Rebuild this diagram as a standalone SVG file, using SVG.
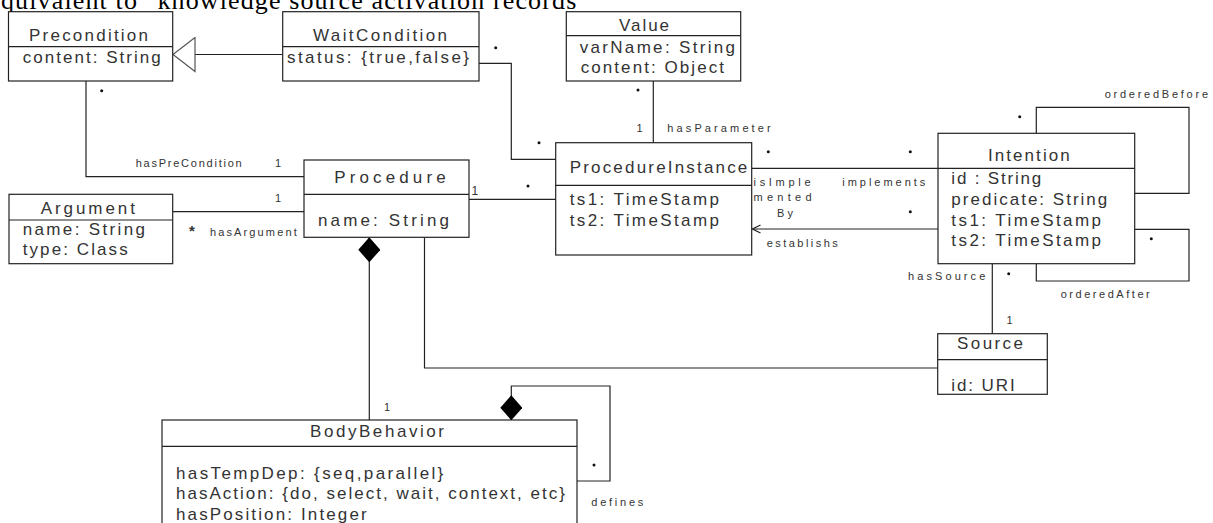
<svg xmlns="http://www.w3.org/2000/svg" width="1213" height="523" viewBox="0 0 1213 523">
<style>
.bg{fill:#fff}
.box{fill:#fff;stroke:#222;stroke-width:1.2}
.div{stroke:#222;stroke-width:1.2}
.c{fill:none;stroke:#222;stroke-width:1.2}
.t{font-family:"Liberation Sans",Arial,sans-serif;font-size:17px;fill:#333}
.s{font-family:"Liberation Sans",Arial,sans-serif;font-size:11px;fill:#333}
.n{font-family:"Liberation Sans",Arial,sans-serif;font-size:12px;fill:#333}
.top{font-family:"Liberation Serif","Times New Roman",serif;font-size:26px;fill:#000}
.dot{fill:#111}
</style>
<defs>
<marker id="diamond" markerUnits="userSpaceOnUse" viewBox="0 0 25 22" markerWidth="25" markerHeight="22" refX="0" refY="11" orient="auto">
<path d="M0,11 L12.5,0 L25,11 L12.5,22 Z" fill="#000"/>
</marker>
<marker id="tri" markerUnits="userSpaceOnUse" viewBox="0 0 24 36" markerWidth="24" markerHeight="36" refX="23" refY="18" orient="auto">
<path d="M1,1 L23,18 L1,35 Z" fill="#fff" stroke="#555" stroke-width="1.2"/>
</marker>
<marker id="open" markerUnits="userSpaceOnUse" viewBox="0 0 10 10" markerWidth="10" markerHeight="10" refX="9" refY="5" orient="auto">
<path d="M1,1 L9,5 L1,9" fill="none" stroke="#222" stroke-width="1.2"/>
</marker>
</defs>
<rect class="bg" x="0" y="0" width="1213" height="523"/>
<text class="top" x="1" y="9" textLength="587" lengthAdjust="spacing">quivalent to "knowledge source activation records"</text>

<g id="connectors">
<path class="c" d="M282.7,54.5 L173,54.5" marker-end="url(#tri)"/>
<path class="c" d="M479,63.3 L511.3,63.3 L511.3,159.3 L555.7,159.3"/>
<path class="c" d="M86,81 L86,176.7 L304,176.7"/>
<path class="c" d="M172.7,211.7 L304,211.7"/>
<path class="c" d="M469,199.3 L555.7,199.3"/>
<path class="c" d="M653.3,81 L653.3,142.7"/>
<path class="c" d="M751.7,168.3 L938,168.3"/>
<path class="c" d="M938,229 L752.5,229" marker-end="url(#open)"/>
<path class="c" d="M1036.3,133.3 L1036.3,107.3 L1189,107.3 L1189,193.3 L1134.7,193.3"/>
<path class="c" d="M1134.7,229.3 L1189,229.3 L1189,281 L1036.3,281 L1036.3,263.7"/>
<path class="c" d="M992.3,263.7 L992.3,333.7"/>
<path class="c" d="M424.5,237.3 L424.5,368 L937.7,368"/>
<path class="c" d="M369.3,237.3 L369.3,420" marker-start="url(#diamond)"/>
<path class="c" d="M511.3,420.3 L511.3,386 L610,386 L610,481 L577,481" marker-start="url(#diamond)"/>
<text class="s" x="135.7" y="167.3" textLength="106" lengthAdjust="spacing">hasPreCondition</text>
<text class="s" x="275" y="167.3">1</text>
<text class="s" x="275" y="202.3">1</text>
<text class="t" x="189" y="236" style="font-size:15px;font-weight:bold">*</text>
<text class="s" x="210" y="236.3" textLength="86.7" lengthAdjust="spacing">hasArgument</text>
<text class="n" x="471.5" y="194.5">1</text>
<text class="s" x="636.5" y="131.7">1</text>
<text class="s" x="667.3" y="131.7" textLength="103.4" lengthAdjust="spacing">hasParameter</text>
<text class="s" x="753.5" y="185.7" textLength="57" lengthAdjust="spacing">isImple</text>
<text class="s" x="753.5" y="200.7" textLength="58" lengthAdjust="spacing">mented</text>
<text class="s" x="777" y="217.3" textLength="16" lengthAdjust="spacing">By</text>
<text class="s" x="842.3" y="185.7" textLength="83" lengthAdjust="spacing">implements</text>
<text class="s" x="766.7" y="247.3" textLength="71" lengthAdjust="spacing">establishs</text>
<text class="s" x="1104.7" y="98" textLength="103.3" lengthAdjust="spacing">orderedBefore</text>
<text class="s" x="1060.7" y="297.7" textLength="89" lengthAdjust="spacing">orderedAfter</text>
<text class="s" x="908" y="280" textLength="77.3" lengthAdjust="spacing">hasSource</text>
<text class="s" x="1006.5" y="324">1</text>
<text class="s" x="384" y="411">1</text>
<text class="s" x="591.3" y="505.7" textLength="52" lengthAdjust="spacing">defines</text>
<circle class="dot" cx="101.7" cy="90.7" r="1.5"/>
<circle class="dot" cx="495.7" cy="47.7" r="1.5"/>
<circle class="dot" cx="539" cy="142.7" r="1.5"/>
<circle class="dot" cx="528" cy="186" r="1.5"/>
<circle class="dot" cx="638" cy="90" r="1.5"/>
<circle class="dot" cx="768.3" cy="151.7" r="1.5"/>
<circle class="dot" cx="910.3" cy="151.7" r="1.5"/>
<circle class="dot" cx="910.3" cy="211.7" r="1.5"/>
<circle class="dot" cx="1019.7" cy="116.7" r="1.5"/>
<circle class="dot" cx="1151.3" cy="238.7" r="1.5"/>
<circle class="dot" cx="1008.7" cy="273.7" r="1.5"/>
<circle class="dot" cx="594" cy="465" r="1.5"/>
</g>

<g id="Precondition">
<rect class="box" x="8.5" y="11.7" width="164.2" height="69.3"/>
<line class="div" x1="8.5" y1="46.7" x2="172.7" y2="46.7"/>
<text class="t" x="29" y="41" textLength="119" lengthAdjust="spacing">Precondition</text>
<text class="t" x="22.7" y="62.7" textLength="138" lengthAdjust="spacing">content: String</text>
</g>

<g id="WaitCondition">
<rect class="box" x="282.7" y="11.7" width="196.3" height="69.3"/>
<line class="div" x1="282.7" y1="46.7" x2="479" y2="46.7"/>
<text class="t" x="313" y="41" textLength="134" lengthAdjust="spacing">WaitCondition</text>
<text class="t" x="287" y="62.7" textLength="182" lengthAdjust="spacing">status: {true,false}</text>
</g>

<g id="Value">
<rect class="box" x="566.3" y="11.7" width="174.4" height="69.3"/>
<line class="div" x1="566.3" y1="35.7" x2="740.7" y2="35.7"/>
<text class="t" x="619" y="31" textLength="50" lengthAdjust="spacing">Value</text>
<text class="t" x="579.7" y="52.7" textLength="155.3" lengthAdjust="spacing">varName: String</text>
<text class="t" x="580.7" y="72.7" textLength="143.3" lengthAdjust="spacing">content: Object</text>
</g>

<g id="Procedure">
<rect class="box" x="304" y="160" width="165" height="77.3"/>
<line class="div" x1="304" y1="194.3" x2="469" y2="194.3"/>
<text class="t" x="334.3" y="182.7" textLength="111.4" lengthAdjust="spacing">Procedure</text>
<text class="t" x="318" y="226" textLength="131" lengthAdjust="spacing">name: String</text>
</g>

<g id="Argument">
<rect class="box" x="9" y="194.3" width="163.7" height="69.4"/>
<line class="div" x1="9" y1="220" x2="172.7" y2="220"/>
<text class="t" x="40.7" y="214.3" textLength="94.3" lengthAdjust="spacing">Argument</text>
<text class="t" x="22.7" y="235.3" textLength="122.3" lengthAdjust="spacing">name: String</text>
<text class="t" x="22.7" y="255.3" textLength="105" lengthAdjust="spacing">type: Class</text>
</g>

<g id="ProcedureInstance">
<rect class="box" x="555.7" y="142.7" width="196" height="112.3"/>
<line class="div" x1="555.7" y1="185.3" x2="751.7" y2="185.3"/>
<text class="t" x="569.7" y="172.7" textLength="177.6" lengthAdjust="spacing">ProcedureInstance</text>
<text class="t" x="569.7" y="205.3" textLength="149.3" lengthAdjust="spacing">ts1: TimeStamp</text>
<text class="t" x="569.7" y="226" textLength="149.3" lengthAdjust="spacing">ts2: TimeStamp</text>
</g>

<g id="Intention">
<rect class="box" x="938" y="133.3" width="196.7" height="130.4"/>
<line class="div" x1="938" y1="168.3" x2="1134.7" y2="168.3"/>
<text class="t" x="988" y="161" textLength="81.7" lengthAdjust="spacing">Intention</text>
<text class="t" x="951.3" y="184.3" textLength="90" lengthAdjust="spacing">id : String</text>
<text class="t" x="951.3" y="205" textLength="156" lengthAdjust="spacing">predicate: String</text>
<text class="t" x="951.3" y="226" textLength="149.7" lengthAdjust="spacing">ts1: TimeStamp</text>
<text class="t" x="951.3" y="246" textLength="149.7" lengthAdjust="spacing">ts2: TimeStamp</text>
</g>

<g id="Source">
<rect class="box" x="937.7" y="333.7" width="109.6" height="60.6"/>
<line class="div" x1="937.7" y1="359.7" x2="1047.3" y2="359.7"/>
<text class="t" x="957" y="349.3" textLength="66" lengthAdjust="spacing">Source</text>
<text class="t" x="951.3" y="391.3" textLength="63.4" lengthAdjust="spacing">id: URI</text>
</g>

<g id="BodyBehavior">
<rect class="box" x="162" y="420" width="415" height="120"/>
<line class="div" x1="162" y1="446.3" x2="577" y2="446.3"/>
<text class="t" x="310" y="437" textLength="134" lengthAdjust="spacing">BodyBehavior</text>
<text class="t" x="176" y="478.7" textLength="267.3" lengthAdjust="spacing">hasTempDep: {seq,parallel}</text>
<text class="t" x="176" y="499" textLength="389" lengthAdjust="spacing">hasAction: {do, select, wait, context, etc}</text>
<text class="t" x="176" y="520" textLength="190.7" lengthAdjust="spacing">hasPosition: Integer</text>
</g>
</svg>
